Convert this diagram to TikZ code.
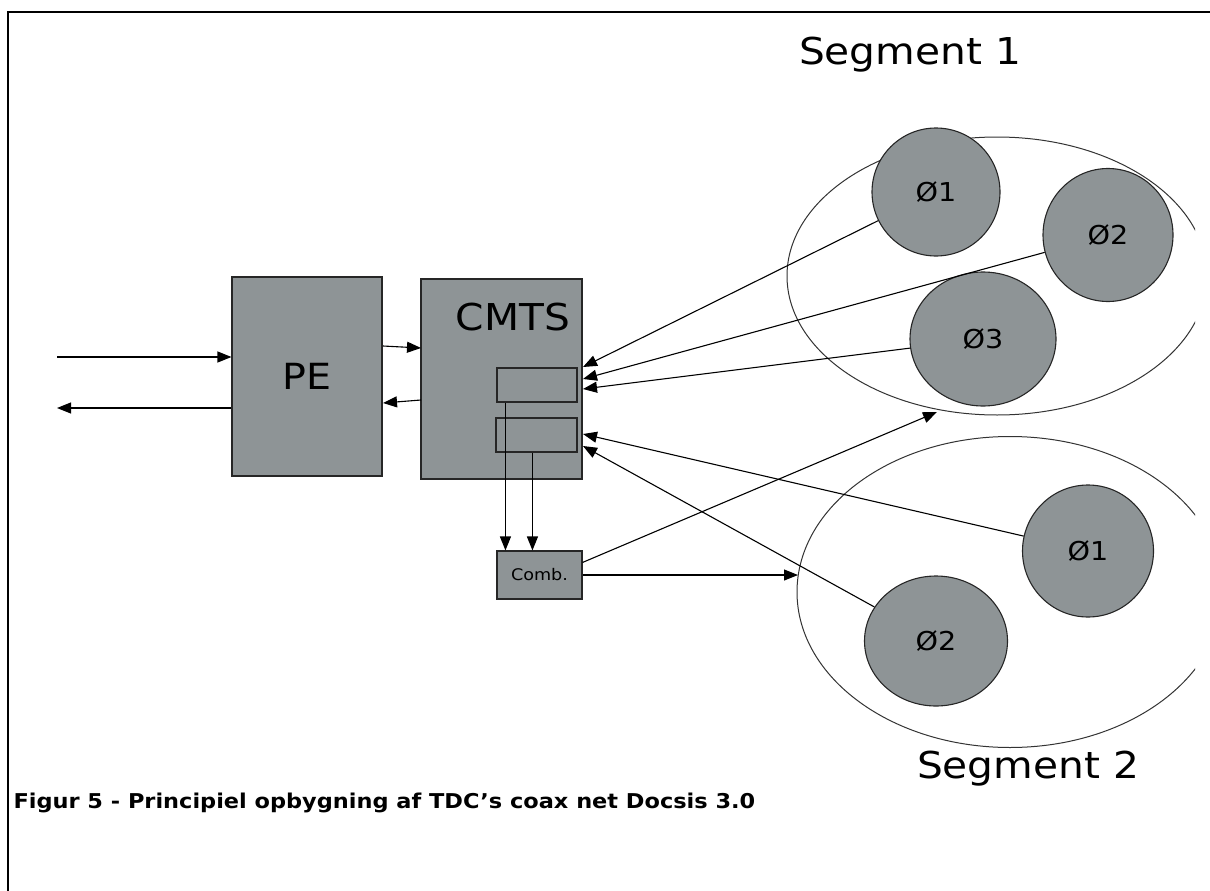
\documentclass[tikz,border=0pt]{standalone}
\usepackage{fontspec}
\setmainfont{DejaVu Sans}[FakeStretch=1.1]
\usetikzlibrary{arrows.meta,shapes.geometric,calc}

\definecolor{boxgray}{RGB}{142,148,150}
\tikzset{
  unit/.style={draw=black!85, fill=boxgray, line width=1.1pt, inner sep=0pt},
  port/.style={draw=black!85, line width=1.1pt, inner sep=0pt},
  modem/.style={unit, ellipse, font=\fontsize{26}{28}\selectfont},
  segment/.style={draw=black!80, ellipse, line width=1pt, inner sep=0pt},
  arr/.style={-{Triangle[length=14pt,width=11pt]}, line width=1.1pt},
  link/.style={line width=1.1pt}
}

\begin{document}
\begin{tikzpicture}[x=1pt,y=-1pt]
  \useasboundingbox (0,0) rectangle (1210,891);

  % frame
  \draw[line width=2pt] (1210,12) -- (8,12) -- (8,891);

  % segments
  \begin{scope}
    \clip (0,0) rectangle (1195,891);
    \node[segment, minimum width=420pt, minimum height=278pt] (seg1) at (997,276) {};
    \node[segment, minimum width=426pt, minimum height=311pt] (seg2) at (1010,592) {};
  \end{scope}
  \node[anchor=base, font=\fontsize{37}{40}\selectfont] (seg1lbl) at (910,64) {Segment 1};
  \node[anchor=base, font=\fontsize{37}{40}\selectfont] (seg2lbl) at (1028,778) {Segment 2};

  % modems
  \node[modem, minimum width=128pt, minimum height=128pt] (a1) at (936,192) {Ø1};
  \node[modem, minimum width=130pt, minimum height=133pt] (a2) at (1108,235) {Ø2};
  \node[modem, minimum width=146pt, minimum height=134pt] (a3) at (983,339) {Ø3};
  \node[modem, minimum width=131pt, minimum height=132pt] (b1) at (1088,551) {Ø1};
  \node[modem, minimum width=143pt, minimum height=130pt] (b2) at (936,641) {Ø2};

  % PE and CMTS
  \node[unit, minimum width=150pt, minimum height=199pt, font=\fontsize{36}{40}\selectfont] (pe) at (307,376.5) {PE};
  \node[unit, minimum width=161pt, minimum height=200pt] (cmts) at (501.5,379) {};
  \node[anchor=base, font=\fontsize{37}{40}\selectfont] (cmtslbl) at (513,330) {CMTS};
  \node[port, minimum width=80pt, minimum height=34pt] (box1) at (537,385) {};
  \node[port, minimum width=81pt, minimum height=34pt] (box2) at (536.5,435) {};
  \node[unit, minimum width=85pt, minimum height=48pt, font=\fontsize{16}{18}\selectfont] (comb) at (539.5,575) {Comb.};

  % ports on the CMTS
  \coordinate (in1) at (583,367);
  \coordinate (in2) at (583,379);
  \coordinate (in3) at (583,389);
  \coordinate (in4) at (583,434);
  \coordinate (in5) at (583,446);
  \coordinate (ext1) at (57,357);
  \coordinate (ext2) at (57,408);
  \coordinate (s1in) at (937,412);
  \coordinate (s2in) at (798,575);

  % uplink
  \draw[arr] (ext1) -- (ext1 -| pe.west);
  \draw[arr] (ext2 -| pe.west) -- (ext2);
  \draw[arr] (383,346) -- (421,348);
  \draw[arr] (421,400) -- (383,403);

  % modems to CMTS
  \draw[arr] (a1) -- (in1);
  \draw[arr] (a2) -- (in2);
  \draw[arr] (a3) -- (in3);
  \draw[arr] (b1) -- (in4);
  \draw[arr] (b2) -- (in5);

  % combiner
  \draw[arr] ($(box1.south west)+(9,0)$) -- ($(comb.north west)+(9,0)$);
  \draw[arr] ($(box2.south west)+(37,0)$) -- ($(comb.north west)+(36,0)$);
  \draw[arr] ($(comb.north east)+(0,12)$) -- (s1in);
  \draw[arr] (comb.east) -- (s2in);

  \node[anchor=base west, font=\bfseries\fontsize{20.4}{24}\selectfont] (caption) at (10,808) {Figur 5 - Principiel opbygning af TDC’s coax net Docsis 3.0};
\end{tikzpicture}
\end{document}
